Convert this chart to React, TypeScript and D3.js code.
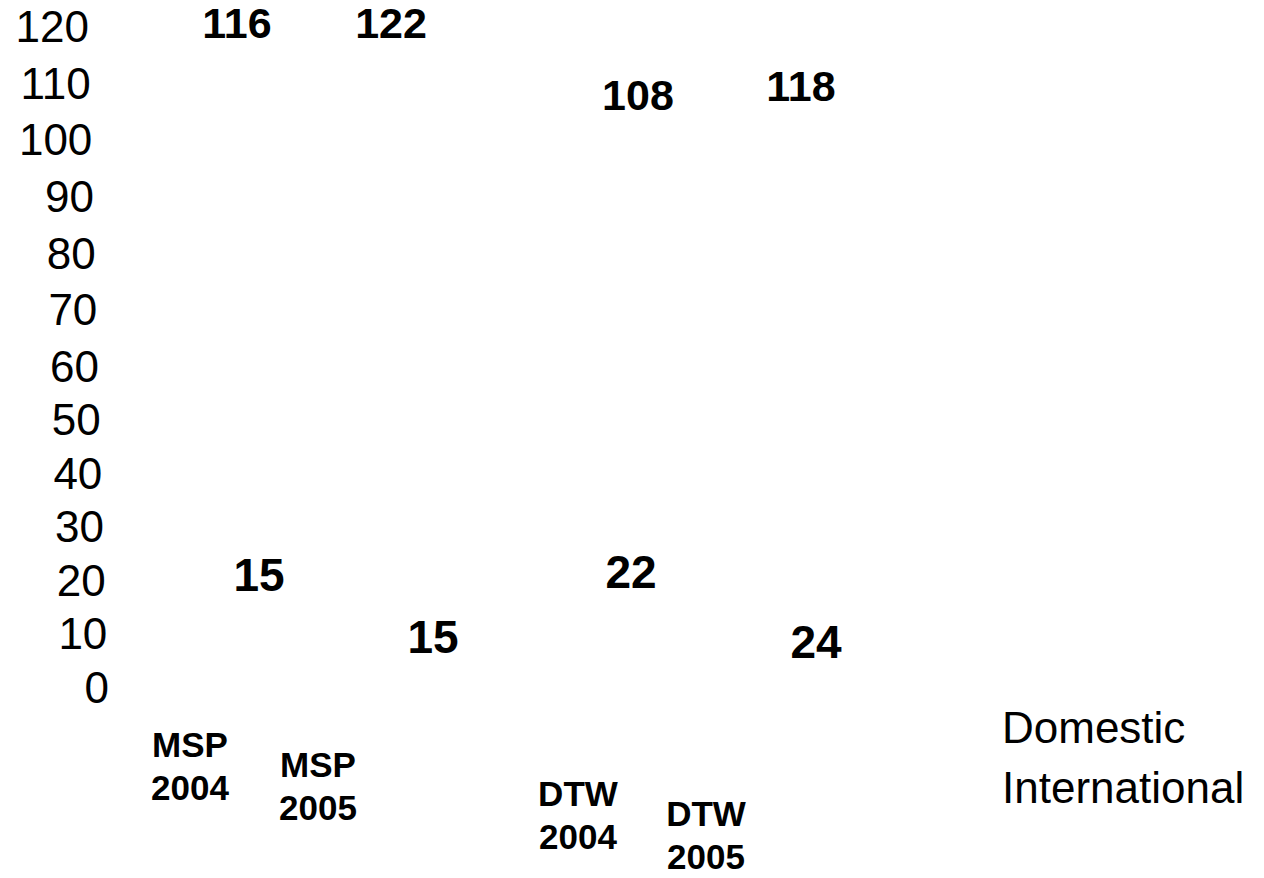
import * as d3 from "d3";

const airports = ["MSP", "DTW"];
const years = ["2004", "2005"];
const seriesNames = ["Domestic", "International"];

const domestic = [116, 122, 108, 118];
const international = [15, 15, 22, 24];

const yTickValues = [0, 10, 20, 30, 40, 50, 60, 70, 80, 90, 100, 110, 120];

// label nudges (px) relative to category centre / value level
const domesticNudge = [
  [47, -26],
  [73, 8],
  [60, 1],
  [95, 48],
];
const intlNudge = [
  [69, -32],
  [115, 30],
  [53, 2],
  [110, 83],
];

const WIDTH = 1264;
const HEIGHT = 878;
const FONT = "'Liberation Sans', Arial, Helvetica, sans-serif";

export default function App() {
  const categories = d3.cross(airports, years);

  // the axis is a little stretched toward the top, hence three stops
  const yScale = d3.scaleLinear().domain([0, 60, 120]).range([687, 366, 26]);
  // tick labels lean to the left as they go up
  const tickX = d3.scaleLinear().domain([0, 120]).range([109, 89]);

  const xOuter = d3.scaleBand().domain(airports).range([60, 836]);
  const xInner = d3
    .scaleBand()
    .domain(years)
    .range([0, xOuter.bandwidth()])
    .paddingInner(0.2)
    .paddingOuter(0.615);
  const xSeries = d3
    .scaleBand()
    .domain(seriesNames)
    .range([0, xInner.bandwidth()])
    .padding(0.1);

  const catX = (a: string, y: string) => (xOuter(a) ?? 0) + (xInner(y) ?? 0);
  const catCenter = (a: string, y: string) =>
    catX(a, y) + xInner.bandwidth() / 2;

  const bars = categories.flatMap(([a, y], i) =>
    seriesNames.map((s) => {
      const v = s === "Domestic" ? domestic[i] : international[i];
      return {
        key: `${a}-${y}-${s}`,
        x: catX(a, y) + (xSeries(s) ?? 0),
        y: yScale(v),
        h: yScale(0) - yScale(v),
      };
    }),
  );

  const labels = categories.flatMap(([a, y], i) => [
    {
      key: `d-${i}`,
      text: domestic[i],
      x: catCenter(a, y) + domesticNudge[i][0],
      y: yScale(domestic[i]) + domesticNudge[i][1],
      size: 43,
    },
    {
      key: `n-${i}`,
      text: international[i],
      x: catCenter(a, y) + intlNudge[i][0],
      y: yScale(international[i]) + intlNudge[i][1],
      size: 46,
    },
  ]);

  return (
    <>
      <style>{`body{margin:0}`}</style>
      <svg
        width={WIDTH}
        height={HEIGHT}
        viewBox={`0 0 ${WIDTH} ${HEIGHT}`}
        style={{ display: "block", background: "#fff", fontFamily: FONT }}
      >
        {/* bars are white in the original */}
        {bars.map((b) => (
          <rect
            key={b.key}
            x={b.x}
            y={b.y}
            width={xSeries.bandwidth()}
            height={b.h}
            fill="#fff"
          />
        ))}

        {/* Y axis labels */}
        {yTickValues.map((v) => (
          <text
            key={v}
            x={tickX(v)}
            y={yScale(v)}
            dy="0.36em"
            textAnchor="end"
            fontSize={44}
            fill="#000"
          >
            {v}
          </text>
        ))}

        {/* value labels */}
        {labels.map((l) => (
          <text
            key={l.key}
            x={l.x}
            y={l.y}
            dy="0.36em"
            textAnchor="middle"
            fontSize={l.size}
            fontWeight="bold"
            fill="#000"
          >
            {l.text}
          </text>
        ))}

        {/* category labels, staggered downward */}
        {categories.map(([a, y]) => {
          const drop = years.indexOf(y) * 20 + airports.indexOf(a) * 49;
          const cx = catCenter(a, y);
          return (
            <text
              key={`${a}${y}`}
              x={cx}
              y={757 + drop}
              textAnchor="middle"
              fontSize={35}
              fontWeight="bold"
              fill="#000"
            >
              <tspan x={cx}>{a}</tspan>
              <tspan x={cx} dy={43}>
                {y}
              </tspan>
            </text>
          );
        })}

        {/* legend (no swatches visible) */}
        {seriesNames.map((s, i) => (
          <text
            key={s}
            x={1002}
            y={743 + i * 60}
            fontSize={44}
            fill="#000"
          >
            {s}
          </text>
        ))}
      </svg>
    </>
  );
}
